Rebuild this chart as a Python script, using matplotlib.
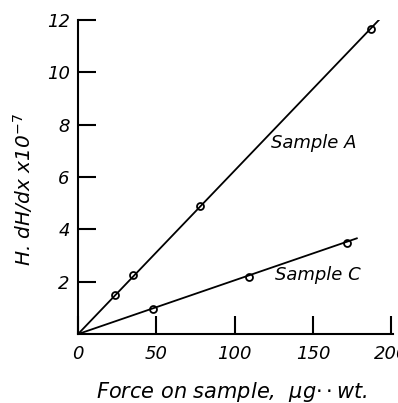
import matplotlib
matplotlib.use("Agg")
import matplotlib.pyplot as plt

# data
a_force = [23.5, 35, 78, 187]
a_value = [1.5, 2.25, 4.9, 11.65]
a_line_x = [0, 192]
a_line_y = [0, 12.0]

c_force = [48, 109, 172]
c_value = [0.95, 2.2, 3.5]
c_line_x = [0, 178]
c_line_y = [0, 3.66]

xticks = [0, 50, 100, 150, 200]
yticks = [2, 4, 6, 8, 10, 12]

plt.rcParams['font.family'] = 'DejaVu Sans'

fig = plt.figure(figsize=(3.98, 4.03), dpi=100)
ax = fig.add_axes([0.196, 0.171, 0.791, 0.779])

ax.plot(a_line_x, a_line_y, '-', color='black', lw=1.3)
ax.plot(a_force, a_value, 'o', color='black', mfc='none', ms=5, mew=1.3)
ax.plot(c_line_x, c_line_y, '-', color='black', lw=1.3)
ax.plot(c_force, c_value, 'o', color='black', mfc='none', ms=5, mew=1.3)

ax.text(123, 7.3, "Sample A", fontsize=13, style='italic', va='center')
ax.text(126, 2.25, "Sample C", fontsize=13, style='italic', va='center')

ax.set_xlim(0, 201)
ax.set_ylim(0, 12)
ax.set_xticks(xticks)
ax.set_yticks(yticks)
ax.set_xticklabels([str(v) for v in xticks], fontsize=13, style='italic')
ax.set_yticklabels([str(v) for v in yticks], fontsize=13, style='italic')
ax.tick_params(direction='in', length=13, width=1.5, pad=6)
ax.tick_params(axis='x', pad=8)

for s in ['top', 'right']:
    ax.spines[s].set_visible(False)
for s in ['left', 'bottom']:
    ax.spines[s].set_linewidth(1.5)

# axis titles placed by figure position
fig.text(232 / 398, 1 - 392 / 403, "Force on sample,  $\\mu$g$\\cdot\\cdot$wt.",
         fontsize=15, style='italic', ha='center', va='center')
fig.text(23 / 398, 1 - 190 / 403, "H. dH/dx x10$^{-7}$",
         fontsize=14.5, style='italic', ha='center', va='center', rotation=90)

fig.savefig("out.png", dpi=100)
